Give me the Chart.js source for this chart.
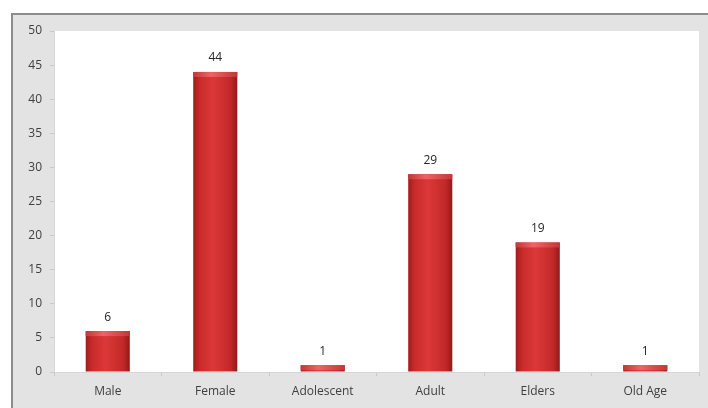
<!DOCTYPE html>
<html>
<head>
<meta charset="utf-8">
<script src="https://cdn.jsdelivr.net/npm/chart.js@4"></script>
<style>
html,body{margin:0;padding:0;background:#fff;}
#wrap{width:708px;height:408px;position:relative;}
</style>
</head>
<body>
<div id="wrap"><canvas id="c" width="708" height="408"></canvas></div>
<script>
const categories = ["Male", "Female", "Adolescent", "Adult", "Elders", "Old Age"];
const counts = [6, 44, 1, 29, 19, 1];
const yTicks = [0, 5, 10, 15, 20, 25, 30, 35, 40, 45, 50];

const framePlugin = {
  id: 'frame',
  beforeDraw(chart) {
    const c = chart.ctx, a = chart.chartArea;
    c.save();
    c.fillStyle = '#ffffff';
    c.fillRect(0, 0, chart.width, chart.height);
    c.fillStyle = '#e3e3e3';
    c.fillRect(12, 14, chart.width - 12, chart.height - 14);
    c.strokeStyle = '#8c8c8c';
    c.lineWidth = 2;
    c.beginPath();
    c.moveTo(12, chart.height);
    c.lineTo(12, 14);
    c.lineTo(chart.width, 14);
    c.stroke();
    c.fillStyle = '#ffffff';
    c.fillRect(a.left, a.top, a.right - a.left, a.bottom - a.top);
    c.restore();
  }
};

const barDecor = {
  id: 'barDecor',
  afterDatasetsDraw(chart) {
    const c = chart.ctx;
    const meta = chart.getDatasetMeta(0);
    c.save();
    meta.data.forEach((el, i) => {
      const l = el.x - el.width / 2, r = el.x + el.width / 2;
      const capH = Math.min(5, el.base - el.y);
      const g = c.createLinearGradient(l, 0, r, 0);
      g.addColorStop(0, '#c03838');
      g.addColorStop(0.4, '#ee6464');
      g.addColorStop(1, '#c03838');
      c.fillStyle = g;
      c.fillRect(l, el.y, el.width, capH);
      c.fillStyle = '#262626';
      c.font = '12px "Open Sans", "Liberation Sans", sans-serif';
      c.textAlign = 'center';
      c.textBaseline = 'bottom';
      c.fillText(String(counts[i]), el.x, el.y - 8);
    });
    c.restore();
  }
};

function barFill(ctx) {
  const chart = ctx.chart;
  const xs = chart.scales && chart.scales.x;
  if (!xs || !chart.chartArea) return '#d43030';
  const cx = xs.getPixelForValue(ctx.dataIndex);
  const w = (xs.right - xs.left) / categories.length * 0.41;
  const g = chart.ctx.createLinearGradient(cx - w / 2, 0, cx + w / 2, 0);
  g.addColorStop(0, '#a01c1c');
  g.addColorStop(0.15, '#c92b2b');
  g.addColorStop(0.45, '#dc3838');
  g.addColorStop(0.85, '#c22828');
  g.addColorStop(1, '#921a1a');
  return g;
}

new Chart(document.getElementById('c'), {
  type: 'bar',
  data: {
    labels: categories,
    datasets: [{
      data: counts,
      backgroundColor: barFill,
      borderWidth: 0,
      categoryPercentage: 0.41,
      barPercentage: 1.0
    }]
  },
  options: {
    responsive: false,
    animation: false,
    devicePixelRatio: 1,
    layout: { padding: { left: 14, top: 31, right: 9, bottom: 0 } },
    plugins: { legend: { display: false }, tooltip: { enabled: false } },
    scales: {
      y: {
        min: 0, max: 50,
        afterBuildTicks(scale) { scale.ticks = yTicks.map(v => ({ value: v })); },
        afterFit(scale) { scale.width = 40; },
        ticks: {
          color: '#404040',
          padding: 8,
          font: { family: '"Open Sans", "Liberation Sans", sans-serif', size: 12 }
        },
        grid: { drawOnChartArea: false, drawTicks: true, tickLength: 4, color: '#c8c8c8' },
        border: { display: true, color: '#d6d6d6' }
      },
      x: {
        afterFit(scale) { scale.height = 36; },
        ticks: {
          color: '#404040',
          padding: 8,
          font: { family: '"Open Sans", "Liberation Sans", sans-serif', size: 12 }
        },
        grid: { offset: true, drawOnChartArea: false, drawTicks: true, tickLength: 4, color: '#c8c8c8' },
        border: { display: true, color: '#d6d6d6' }
      }
    }
  },
  plugins: [framePlugin, barDecor]
});
</script>
</body>
</html>
